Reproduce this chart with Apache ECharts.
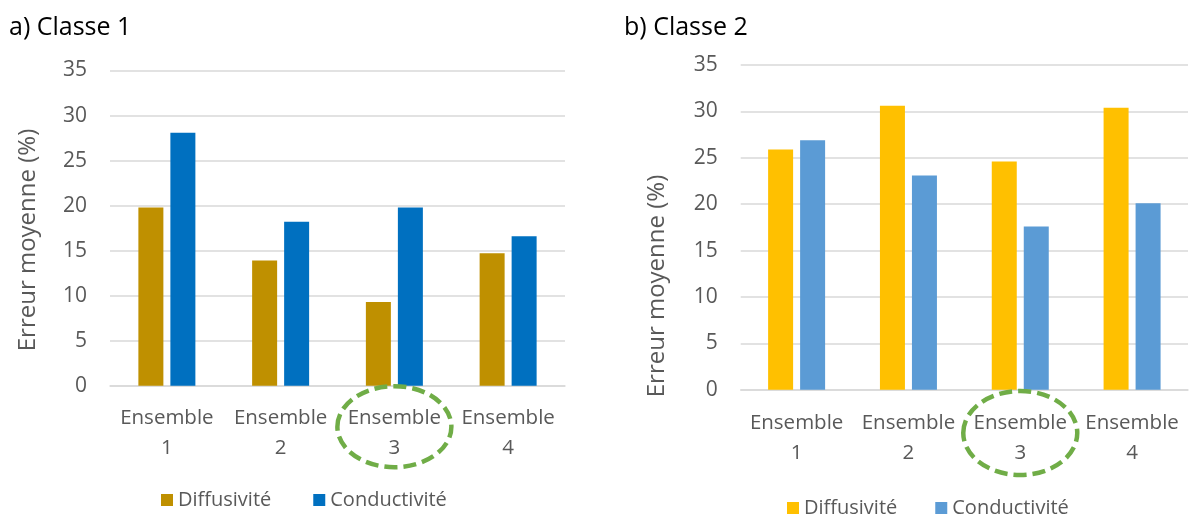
<!DOCTYPE html>
<html>
<head>
<meta charset="utf-8">
<script src="https://cdn.jsdelivr.net/npm/echarts@6/dist/echarts.min.js"></script>
<style>
  html, body { margin: 0; padding: 0; background: #ffffff; }
  #wrap { position: relative; width: 1189px; height: 515px; }
  #c1 { position: absolute; left: 0; top: 0; width: 600px; height: 515px; }
  #c2 { position: absolute; left: 600px; top: 0; width: 589px; height: 515px; }
</style>
</head>
<body>
<div id="wrap"><div id="c1"></div><div id="c2"></div></div>
<script>
// ---- data ----
const categories = ['Ensemble 1', 'Ensemble 2', 'Ensemble 3', 'Ensemble 4'];
const seriesNames = ['Diffusivité', 'Conductivité'];
const classe1Diffusivite = [19.8, 13.9, 9.3, 14.7];
const classe1Conductivite = [28.1, 18.2, 19.8, 16.6];
const classe2Diffusivite = [25.9, 30.6, 24.6, 30.4];
const classe2Conductivite = [26.9, 23.1, 17.6, 20.1];
const yMin = 0, yMax = 35, yStep = 5;
const highlightedCategory = 'Ensemble 3';
const yAxisTitle = 'Erreur moyenne (%)';
const panelTitles = ['a) Classe 1', 'b) Classe 2'];

const FONT = '"Open Sans", "Noto Sans", sans-serif';
const GREY = '#595959';
const GRID = '#D9D9D9';

function buildOption(cfg) {
  return {
    animation: false,
    textStyle: { fontFamily: FONT },
    title: {
      text: cfg.title, left: cfg.titleLeft, top: 10,
      textStyle: { fontFamily: FONT, fontSize: 25, fontWeight: 'normal', color: '#000000' }
    },
    legend: {
      data: seriesNames,
      left: cfg.legendLeft, top: cfg.legendTop,
      icon: 'rect', itemWidth: 12, itemHeight: 12, itemGap: cfg.legendGap,
      textStyle: { fontFamily: FONT, fontSize: 20, color: GREY }
    },
    grid: { left: cfg.gridLeft, top: cfg.gridTop, width: cfg.gridWidth, height: cfg.gridHeight, containLabel: false },
    xAxis: {
      type: 'category', data: categories,
      axisLine: { show: true, lineStyle: { color: GRID, width: 1.5 } },
      axisTick: { show: false },
      axisLabel: {
        interval: 0, fontFamily: FONT, fontSize: 20.5, color: GREY, lineHeight: 30, margin: cfg.labelMargin,
        formatter: v => v.replace(' ', '\n')
      }
    },
    yAxis: {
      type: 'value', min: yMin, max: yMax, interval: yStep,
      axisLine: { show: false }, axisTick: { show: false },
      axisLabel: { fontFamily: FONT, fontSize: 21, color: GREY, margin: 23 },
      splitLine: { show: true, lineStyle: { color: GRID, width: 1.5 } }
    },
    series: [
      { name: seriesNames[0], type: 'bar', data: cfg.d1, barWidth: 25, barGap: '28%',
        itemStyle: { color: cfg.c1 } },
      { name: seriesNames[1], type: 'bar', data: cfg.d2, barWidth: 25, barGap: '28%',
        itemStyle: { color: cfg.c2 } }
    ]
  };
}

function addDecorations(chart, cfg) {
  const cx = chart.convertToPixel({ xAxisIndex: 0 }, highlightedCategory);
  const y0 = chart.convertToPixel({ yAxisIndex: 0 }, 0);
  chart.setOption({
    graphic: [
      {
        type: 'text', x: cfg.nameX, y: cfg.nameY, rotation: Math.PI / 2,
        style: { text: yAxisTitle, fontFamily: FONT, fontSize: 24, fill: GREY,
                 textAlign: 'center', textVerticalAlign: 'middle' }
      },
      {
        type: 'ellipse', z: 100,
        shape: { cx: cx, cy: y0 + cfg.ellipseDy, rx: 57, ry: cfg.ellipseRy },
        style: { fill: 'none', stroke: '#70AD47', lineWidth: 4.5, lineDash: [13, 6] }
      }
    ]
  });
}

const cfgLeft = {
  title: panelTitles[0], titleLeft: 4,
  legendLeft: 156, legendTop: 485, legendGap: 42,
  gridLeft: 110, gridTop: 70.5, gridWidth: 455, gridHeight: 315.2, labelMargin: 17,
  d1: classe1Diffusivite, d2: classe1Conductivite, c1: '#BF9000', c2: '#0070C0',
  nameX: 28, nameY: 240, ellipseDy: 41, ellipseRy: 40.5
};
const cfgRight = {
  title: panelTitles[1], titleLeft: 19,
  legendLeft: 182, legendTop: 493, legendGap: 38,
  gridLeft: 140.7, gridTop: 65, gridWidth: 447.3, gridHeight: 324.7, labelMargin: 18.5,
  d1: classe2Diffusivite, d2: classe2Conductivite, c1: '#FFC000', c2: '#5B9BD5',
  nameX: 57, nameY: 286, ellipseDy: 43.3, ellipseRy: 42
};

const ch1 = echarts.init(document.getElementById('c1'), null, { renderer: 'canvas' });
ch1.setOption(buildOption(cfgLeft));
addDecorations(ch1, cfgLeft);
const ch2 = echarts.init(document.getElementById('c2'), null, { renderer: 'canvas' });
ch2.setOption(buildOption(cfgRight));
addDecorations(ch2, cfgRight);
</script>
</body>
</html>
